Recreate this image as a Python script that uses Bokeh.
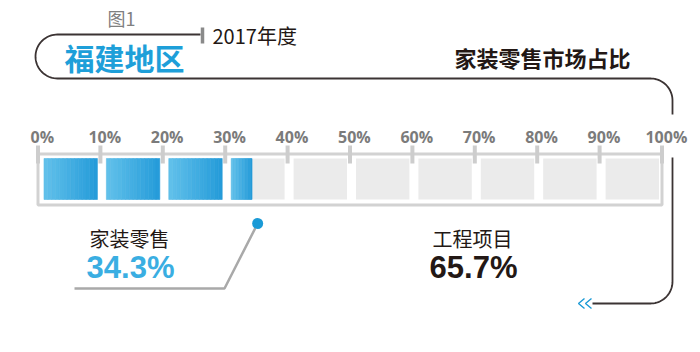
import numpy as np
from bokeh.plotting import figure
from bokeh.models import Range1d
from bokeh.core.properties import value
from bokeh.embed import file_html
from bokeh.resources import INLINE

# ---- data ----
categories = ["家装零售", "工程项目"]
shares = [34.3, 65.7]
tick_values = [0, 10, 20, 30, 40, 50, 60, 70, 80, 90, 100]
tick_labels = ["0%", "10%", "20%", "30%", "40%", "50%", "60%", "70%", "80%", "90%", "100%"]
title_fig = "图1"
title_region = "福建地区"
title_year = "2017年度"
title_main = "家装零售市场占比"

# ---- layout helpers (pixel -> percent axis) ----
X0, SC = 37.5, 6.24
def X(px):
    return (np.asarray(px, dtype=float) - X0) / SC

CJK = value("Noto Sans CJK SC")
p = figure(width=700, height=352, x_range=Range1d(float(X(0)), float(X(700))),
           y_range=Range1d(352, 0), output_backend="svg", toolbar_location=None,
           min_border=0, x_axis_location=None, y_axis_location=None)
p.grid.visible = False
p.outline_line_color = None
p.background_fill_color = "white"
p.border_fill_color = "white"

# ---- frame and ticks ----
p.quad(left=[tick_values[0]], right=[tick_values[-1]], top=[153.5], bottom=[204.5],
       fill_color=None, line_color="#d2d2d2", line_width=3)
p.segment(x0=tick_values, x1=tick_values, y0=[145] * len(tick_values), y1=[163] * len(tick_values),
          line_color="#cdcdcd", line_width=4)
p.text(x=[t + 0.7 for t in tick_values], y=[136] * len(tick_values), text=tick_labels,
       text_font=value("Open Sans"), text_font_style="bold", text_font_size="16px",
       text_color="#7b7b7b", text_align="center", text_baseline="middle")

# ---- cells ----
step = tick_values[1] - tick_values[0]
starts = [t + 0.96 for t in tick_values[:-1]]
ends = [t + step - 0.48 for t in tick_values[:-1]]
p.quad(left=starts, right=ends, top=[158] * len(starts), bottom=[199] * len(starts),
       fill_color="#ebebeb", line_color=None)

c0 = np.array([0x60, 0xc0, 0xea])
c1 = np.array([0x26, 0x9c, 0xda])
L, R, C = [], [], []
N = 14
for s, e in zip(starts, ends):
    be = min(e, shares[0])
    if be <= s:
        continue
    edges = np.linspace(s, be, N + 1)
    for k in range(N):
        f = k / (N - 1)
        col = c0 + (c1 - c0) * f
        L.append(edges[k]); R.append(edges[k + 1])
        C.append("#%02x%02x%02x" % tuple(int(round(v)) for v in col))
p.quad(left=L, right=R, top=[158] * len(L), bottom=[199] * len(L),
       fill_color=C, line_color=C, line_width=0.6)

# ---- title bracket ----
t = np.linspace(0, np.pi, 40)
xa = np.concatenate([[200, 57], 57 - 22 * np.sin(t), [650]])
ya = np.concatenate([[34, 34], 56 - 22 * np.cos(t), [78]])
t2 = np.linspace(0, np.pi / 2, 25)
xa = np.concatenate([xa, 650 + 22 * np.sin(t2), [672]])
ya = np.concatenate([ya, 100 - 22 * np.cos(t2), [114]])
p.line(x=X(xa), y=ya, line_color="#3b3333", line_width=1.8)
xb = np.concatenate([[672], 650 + 22 * np.cos(t2), [592]])
yb = np.concatenate([[157], 281 + 22 * np.sin(t2), [303]])
p.line(x=X(xb), y=yb, line_color="#3b3333", line_width=1.8)
p.multi_line(xs=[list(X([584, 578, 584])), list(X([591, 585, 591]))],
             ys=[[298, 303, 308], [298, 303, 308]], line_color="#1a9ad6", line_width=1.4)
p.segment(x0=[float(X(202))], x1=[float(X(202))], y0=[27], y1=[43], line_color="#8a8a8a", line_width=3.5)

# ---- title texts ----
p.text(x=[float(X(107))], y=[17], text=[title_fig], text_font=CJK, text_font_size="18px",
       text_color="#808080", text_align="left", text_baseline="middle")
p.text(x=[float(X(212))], y=[35], text=[title_year], text_font=CJK, text_font_size="20px",
       text_color="#231815", text_align="left", text_baseline="middle")
p.text(x=[float(X(124))], y=[56], text=[title_region], text_font=CJK, text_font_size="30px",
       text_font_style="bold", text_color="#1e9fd9", text_align="center", text_baseline="middle")
p.text(x=[float(X(542))], y=[56], text=[title_main], text_font=CJK, text_font_size="22px",
       text_font_style="bold", text_color="#231815", text_align="center", text_baseline="middle")

# ---- leader line + dot ----
dot_x = shares[0] + 0.9
p.line(x=list(X([74, 224])) + [dot_x], y=[288, 288, 223], line_color="#a9a9a9", line_width=2.5)
p.scatter(x=[dot_x], y=[223], size=11, fill_color="#1a9ad6", line_color=None)

# ---- category labels ----
p.text(x=[float(X(129)), float(X(472))], y=[238, 238], text=categories, text_font=CJK,
       text_font_size="20px", text_color="#231815", text_align="center", text_baseline="middle")
p.text(x=[float(X(130)), float(X(473))], y=[267, 267], text=["%.1f%%" % v for v in shares],
       text_font=value("Liberation Sans"), text_font_style="bold", text_font_size="31px",
       text_color=["#3aaee2", "#231815"], text_align="center", text_baseline="middle")

open("out.html", "w").write(file_html(p, INLINE))
